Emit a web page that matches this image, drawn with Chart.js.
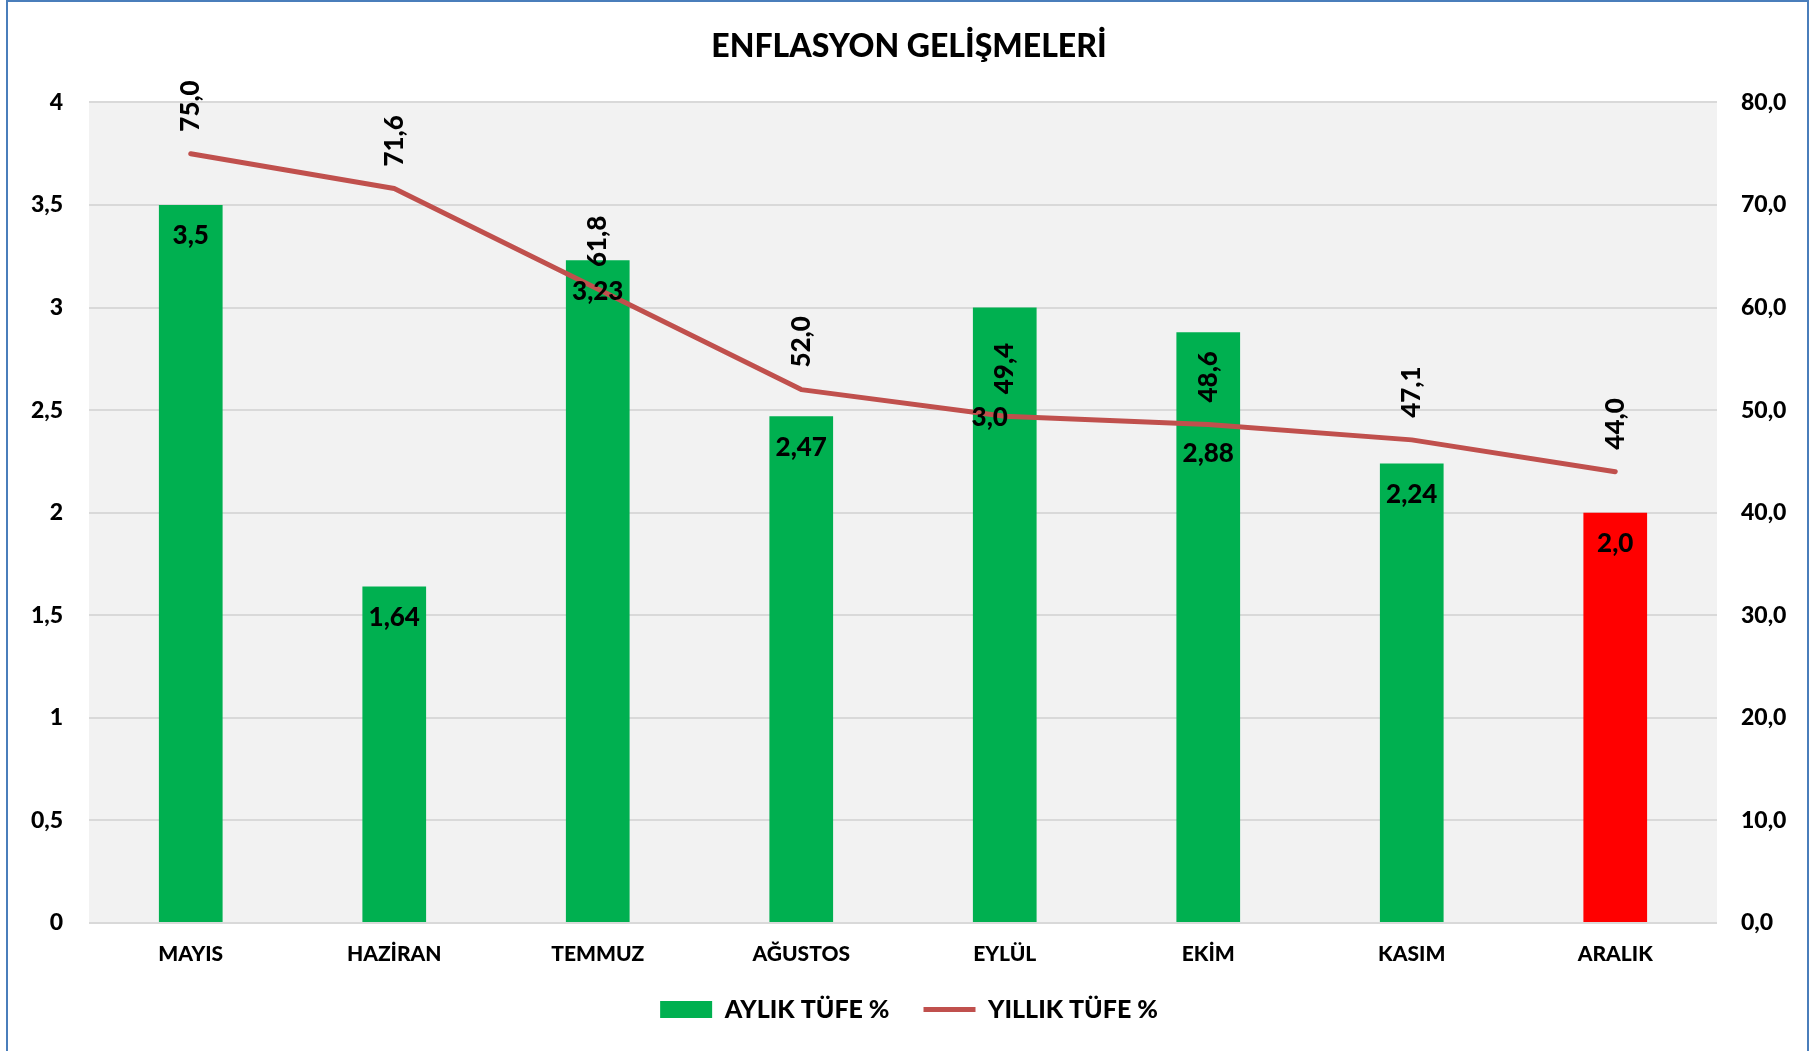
<!DOCTYPE html>
<html>
<head>
<meta charset="utf-8">
<script src="https://cdn.jsdelivr.net/npm/chart.js@4.4.1/dist/chart.umd.min.js"></script>
<style>
  html, body { margin: 0; padding: 0; background: #fff; overflow: hidden; }
  #wrap { position: relative; width: 1818px; height: 1051px; }
  #frame { position: absolute; left: 6px; top: 0; width: 1803px; height: 1100px;
           border: 2px solid #4a7ebb; box-sizing: border-box; pointer-events: none; }
</style>
</head>
<body>
<div id="wrap">
  <canvas id="inflationChart" width="1818" height="1051"></canvas>
  <div id="frame"></div>
</div>
<script>
// chart data
const months = ['MAYIS', 'HAZİRAN', 'TEMMUZ', 'AĞUSTOS', 'EYLÜL', 'EKİM', 'KASIM', 'ARALIK'];
const monthlyCpi = [3.5, 1.64, 3.23, 2.47, 3.0, 2.88, 2.24, 2.0];
const annualCpi = [75.0, 71.6, 61.8, 52.0, 49.4, 48.6, 47.1, 44.0];
const leftTickLabels = ['0', '0,5', '1', '1,5', '2', '2,5', '3', '3,5', '4'];
const rightTickLabels = ['0,0', '10,0', '20,0', '30,0', '40,0', '50,0', '60,0', '70,0', '80,0'];

// a couple of bar labels were moved down by hand in the original
const barLabelNudgeX = [0, 0, 0, 0, -15, 0, 0, 0];
const barLabelNudgeY = [0, 0, 0, 0, 79, 90, 0, 0];

const GREEN = '#00b050';
const RED = '#ff0000';
const LINE_RED = '#c0504d';
const FONT = 'Lato';
const WEIGHT = '900';

const barColors = months.map((m, i) => i === months.length - 1 ? RED : GREEN);

const fmtMonthly = v => (Math.round(v * 10) === v * 10 ? v.toFixed(1) : v.toFixed(2)).replace('.', ',');

// grey plot background
const plotBackground = {
  id: 'plotBackground',
  beforeDraw(chart) {
    const { ctx, chartArea: a } = chart;
    ctx.save();
    ctx.fillStyle = '#f2f2f2';
    ctx.fillRect(a.left, a.top, a.right - a.left, a.bottom - a.top);
    ctx.restore();
  }
};

// data labels: inside the bars and rotated above the line
const valueLabels = {
  id: 'valueLabels',
  afterDatasetsDraw(chart) {
    const ctx = chart.ctx;
    ctx.save();
    ctx.fillStyle = '#000';
    ctx.font = WEIGHT + ' 26px ' + FONT;
    ctx.textAlign = 'center';
    ctx.textBaseline = 'middle';
    chart.getDatasetMeta(0).data.forEach((bar, i) => {
      ctx.fillText(fmtMonthly(monthlyCpi[i]), bar.x + barLabelNudgeX[i], bar.y + 31 + barLabelNudgeY[i]);
    });
    chart.getDatasetMeta(1).data.forEach((pt, i) => {
      ctx.save();
      ctx.translate(pt.x, pt.y - 22);
      ctx.rotate(-Math.PI / 2);
      ctx.textAlign = 'left';
      ctx.fillText(annualCpi[i].toFixed(1).replace('.', ','), 0, 0);
      ctx.restore();
    });
    ctx.restore();
  }
};

const tickFont = { family: FONT, weight: WEIGHT, size: 23 };

new Chart(document.getElementById('inflationChart').getContext('2d'), {
  type: 'bar',
  data: {
    labels: months,
    datasets: [{
      type: 'bar',
      label: 'AYLIK TÜFE %',
      data: monthlyCpi,
      backgroundColor: barColors,
      yAxisID: 'y',
      order: 1,
      barPercentage: 0.313,
      categoryPercentage: 1
    }, {
      type: 'line',
      label: 'YILLIK TÜFE %',
      data: annualCpi,
      borderColor: LINE_RED,
      backgroundColor: LINE_RED,
      borderWidth: 5,
      borderCapStyle: 'round',
      borderJoinStyle: 'round',
      pointRadius: 0,
      tension: 0,
      yAxisID: 'y2',
      order: 0
    }]
  },
  options: {
    responsive: false,
    animation: false,
    layout: { padding: { top: 0, left: 0, right: 0, bottom: 19 } },
    plugins: {
      tooltip: { enabled: false },
      title: {
        display: true,
        text: 'ENFLASYON GELİŞMELERİ',
        color: '#000',
        font: { family: FONT, weight: WEIGHT, size: 32 },
        padding: { top: 27, bottom: 37 }
      },
      legend: {
        position: 'bottom',
        labels: {
          usePointStyle: true,
          pointStyleWidth: 52,
          boxHeight: 17,
          padding: 34,
          color: '#000',
          font: { family: FONT, weight: WEIGHT, size: 25 },
          generateLabels(chart) {
            const items = Chart.defaults.plugins.legend.labels.generateLabels(chart);
            items.forEach(it => { it.pointStyle = it.datasetIndex === 0 ? 'rect' : 'line'; });
            return items;
          },
          sort: (a, b) => a.datasetIndex - b.datasetIndex
        }
      }
    },
    scales: {
      x: {
        grid: { display: false, drawTicks: false },
        border: { display: false },
        ticks: { color: '#000', font: { family: FONT, weight: WEIGHT, size: 21 }, padding: 19, maxRotation: 0, autoSkip: false },
        afterFit(s) { s.height = 40; }
      },
      y: {
        position: 'left',
        min: 0,
        max: 4,
        ticks: { stepSize: 0.5, color: '#000', font: tickFont, padding: 26, callback: (v, i) => leftTickLabels[i] },
        grid: { color: '#d9d9d9', lineWidth: 2, drawTicks: false },
        border: { display: false },
        afterFit(s) { s.width = 89; }
      },
      y2: {
        position: 'right',
        min: 0,
        max: 80,
        ticks: { stepSize: 10, color: '#000', font: tickFont, padding: 24, callback: (v, i) => rightTickLabels[i] },
        grid: { display: false, drawTicks: false },
        border: { display: false },
        afterFit(s) { s.width = 101; }
      }
    }
  },
  plugins: [plotBackground, valueLabels]
});
</script>
</body>
</html>
